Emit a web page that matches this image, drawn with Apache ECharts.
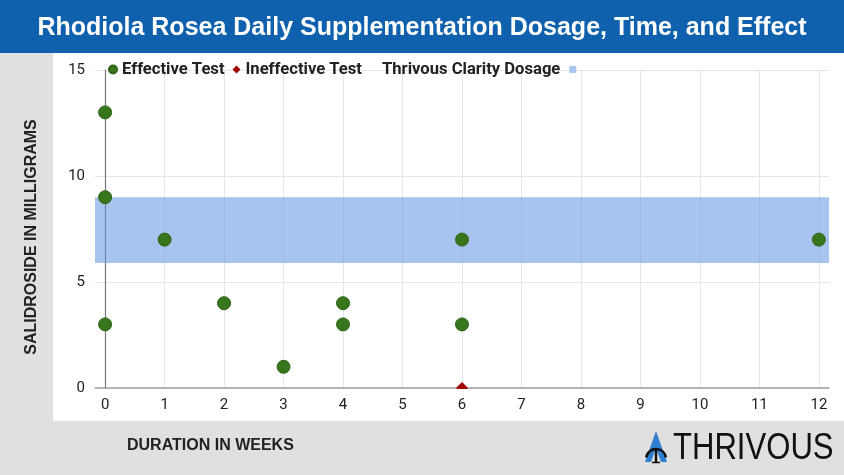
<!DOCTYPE html>
<html>
<head>
<meta charset="utf-8">
<script src="https://cdn.jsdelivr.net/npm/echarts@6/dist/echarts.min.js"></script>
<style>
html,body{margin:0;padding:0;background:#e0e0e0;}
#chart{width:844px;height:475px;}
</style>
</head>
<body>
<div id="chart"></div>
<script>
const titleText = 'Rhodiola Rosea Daily Supplementation Dosage, Time, and Effect';
const effectiveName = 'Effective Test';
const ineffectiveName = 'Ineffective Test';
const dosageName = 'Thrivous Clarity Dosage';
const weeksEffective = [0, 0, 0, 1, 2, 3, 4, 4, 6, 6, 12];
const mgEffective = [13, 9, 3, 7, 4, 1, 4, 3, 7, 3, 7];
const weeksIneffective = [6];
const mgIneffective = [0];
const dosageRange = [5.9, 9];
const xTickValues = [0, 1, 2, 3, 4, 5, 6, 7, 8, 9, 10, 11, 12];
const yTickValues = [0, 5, 10, 15];
const xAxisTitle = 'DURATION IN WEEKS';
const yAxisTitle = 'SALIDROSIDE IN MILLIGRAMS';
const logoText = 'THRIVOUS';

const chart = echarts.init(document.getElementById('chart'), null, {renderer: 'canvas'});

const effData = weeksEffective.map((w, i) => [w, mgEffective[i]]);
const inefData = weeksIneffective.map((w, i) => [w, mgIneffective[i]]);

const option = {
  backgroundColor: '#e0e0e0',
  animation: false,
  title: {
    text: titleText,
    left: 'center',
    top: 11,
    textStyle: {color: '#ffffff', fontSize: 25, fontWeight: 'bold', fontFamily: 'Liberation Sans, Arial, sans-serif'}
  },
  graphic: [
    {type: 'rect', z: -10, shape: {x: 0, y: 0, width: 844, height: 53}, style: {fill: '#0f61ae'}},
    {type: 'rect', z: -10, shape: {x: 53, y: 53, width: 791, height: 368}, style: {fill: '#ffffff'}},
    {type: 'rect', z: 50, shape: {x: 92, y: 389, width: 740, height: 7}, style: {fill: '#ffffff'}},
    {type: 'text', z: 50, left: 127, top: 438, style: {text: xAxisTitle, fill: '#222', font: 'bold 16px Liberation Sans, Arial, sans-serif'}},
    {type: 'polygon', z: 50, shape: {points: [[656, 431], [645, 462], [667, 462]]}, style: {fill: '#2f7fd0'}},
    {type: 'polygon', z: 51, shape: {points: [[656, 448], [651, 462], [661, 462]]}, style: {fill: '#e0e0e0'}},
    {type: 'arc', z: 52, shape: {cx: 656, cy: 459, r: 10, startAngle: Math.PI * 1.05, endAngle: Math.PI * 1.95}, style: {stroke: '#111', lineWidth: 2.5, fill: null}},
    {type: 'line', z: 52, shape: {x1: 656, y1: 449, x2: 656, y2: 463}, style: {stroke: '#111', lineWidth: 2.5}},
    {type: 'line', z: 52, shape: {x1: 652, y1: 462.5, x2: 660, y2: 462.5}, style: {stroke: '#111', lineWidth: 1.5}},
    {type: 'text', z: 50, x: 673, y: 449, scaleX: 0.84, style: {text: logoText, fill: '#111', font: '37px Liberation Sans, Arial, sans-serif', verticalAlign: 'middle', textAlign: 'left'}}
  ],
  legend: [
    {
      data: [
        {name: effectiveName, icon: 'circle'},
        {name: ineffectiveName, icon: 'diamond'}
      ],
      left: 108,
      top: 61,
      itemWidth: 8,
      itemHeight: 8,
      itemGap: 8,
      align: 'left',
      padding: [0, 0, 0, 0],
      textStyle: {fontSize: 16.6, fontWeight: 'bold', color: '#222', fontFamily: 'Roboto, sans-serif', padding: [0, 0, 0, 0]}
    },
    {
      data: [{name: dosageName, icon: 'rect', itemStyle: {color: '#a9c4f0'}}],
      left: 382,
      top: 61,
      itemWidth: 7,
      itemHeight: 7,
      align: 'right',
      padding: [0, 0, 0, 0],
      textStyle: {fontSize: 16.6, fontWeight: 'bold', color: '#222', fontFamily: 'Roboto, sans-serif', padding: [0, 4, 0, 0]}
    }
  ],
  grid: {left: 95, right: 15, top: 70, bottom: 87, containLabel: false},
  xAxis: {
    type: 'value',
    min: -0.17,
    max: 12.17,
    axisLine: {show: true, onZero: false, lineStyle: {color: '#9e9e9e', width: 1.5}},
    axisTick: {show: false, customValues: xTickValues},
    axisLabel: {customValues: xTickValues, fontSize: 15, color: '#222', fontFamily: 'Roboto, sans-serif', margin: 10},
    splitLine: {show: true, lineStyle: {color: '#e6e6e6', width: 1}}
  },
  yAxis: {
    type: 'value',
    min: 0,
    max: 15,
    interval: 5,
    axisLine: {show: true, onZero: true, lineStyle: {color: '#777', width: 1.2}},
    axisTick: {show: false},
    axisLabel: {fontSize: 15, color: '#222', fontFamily: 'Roboto, sans-serif', margin: 10},
    splitLine: {show: true, lineStyle: {color: '#e6e6e6', width: 1}},
    name: yAxisTitle,
    nameLocation: 'middle',
    nameGap: 55,
    nameTextStyle: {fontSize: 16, fontWeight: 'bold', color: '#222', fontFamily: 'Liberation Sans, Arial, sans-serif', padding: [0, 16, 0, 0]}
  },
  series: [
    {
      name: dosageName,
      type: 'line',
      data: [],
      z: 1,
      itemStyle: {color: '#a9c4f0'},
      markArea: {
        silent: true,
        itemStyle: {color: 'rgba(99,146,226,0.55)'},
        data: [[{yAxis: dosageRange[0]}, {yAxis: dosageRange[1]}]]
      }
    },
    {
      name: effectiveName,
      type: 'scatter',
      z: 3,
      data: effData,
      symbol: 'circle',
      symbolSize: 13,
      itemStyle: {color: '#38761d', borderColor: '#2e6417', borderWidth: 1, opacity: 1}
    },
    {
      name: ineffectiveName,
      type: 'scatter',
      z: 3,
      data: inefData,
      symbol: 'diamond',
      symbolSize: 12,
      clip: false,
      itemStyle: {color: '#a30000', opacity: 1}
    }
  ]
};
chart.setOption(option);
</script>
</body>
</html>
